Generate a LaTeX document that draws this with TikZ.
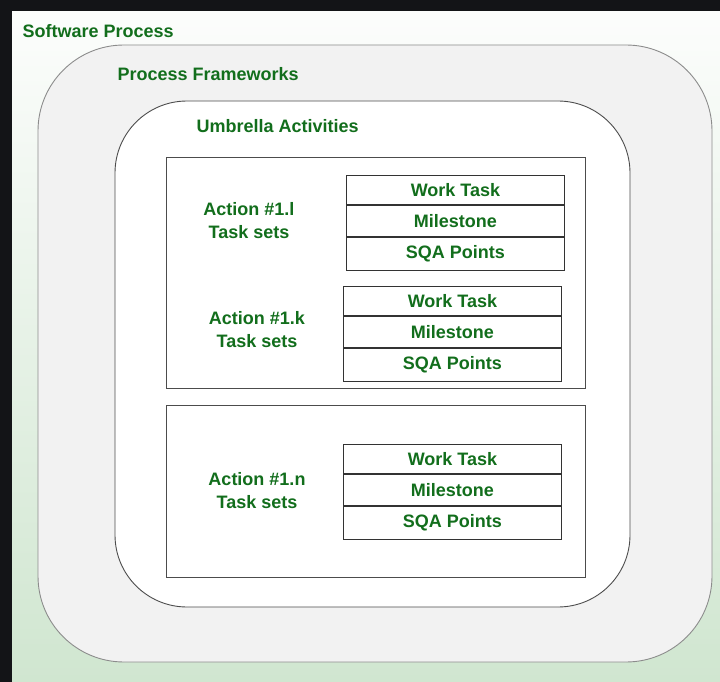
\documentclass[tikz,border=0pt]{standalone}
\usepackage{fontspec}
\setmainfont{Liberation Sans}
\usetikzlibrary{positioning}

\definecolor{ggreen}{RGB}{18,110,28}
\definecolor{bgtop}{RGB}{252,253,252}
\definecolor{bgbot}{RGB}{208,230,208}
\definecolor{framegray}{RGB}{242,242,242}
\definecolor{darkstrip}{RGB}{19,20,23}

\tikzset{
  txt/.style={text=ggreen, font=\bfseries\fontsize{18}{23}\selectfont, align=center},
  cell/.style={draw=black!80, fill=white, line width=0.9pt, minimum width=218pt,
               inner sep=0pt, txt},
  actbox/.style={draw=black!70, fill=white, line width=0.9pt}
}

\begin{document}
\begin{tikzpicture}[x=1pt, y=-1pt]
  \useasboundingbox (0,0) rectangle (720,682);
  % backdrop and dark edges
  \fill[darkstrip] (0,0) rectangle (720,682);
  \shade[top color=bgtop, bottom color=bgbot] (12,12) rectangle (720,682);

  % nested regions
  \draw[black!45, fill=framegray, line width=0.9pt, rounded corners=86pt]
    (38,45) rectangle (712,662);
  \draw[black!70, fill=white, line width=0.9pt, rounded corners=72pt]
    (115,101) rectangle (630,607);
  \node[txt, anchor=west] (swp) at (19,31) {Software Process};
  \node[txt, anchor=west] (pfw) at (114,74) {Process Frameworks};
  \node[txt, anchor=west] (uma) at (193,126) {Umbrella Activities};

  % action groups
  \draw[actbox] (166,157) rectangle (585,388);
  \draw[actbox] (166,405) rectangle (585,577);

  \node[txt] (actl) at (249,221) {Action \#1.l\\Task sets};
  \node[txt] (actk) at (257,330) {Action \#1.k\\Task sets};
  \node[txt] (actn) at (257,491) {Action \#1.n\\Task sets};

  % task tables
  \foreach \tx/\ty/\nm in {346/175/l, 343/286/k, 343/444/n} {
    \node[cell, anchor=north west, minimum height=29pt] (wt\nm) at (\tx,\ty) {Work Task};
    \node[cell, below=0pt of wt\nm, minimum height=31pt] (ms\nm) {Milestone};
    \node[cell, below=0pt of ms\nm, minimum height=33pt] (sqa\nm) {SQA Points};
  }
\end{tikzpicture}
\end{document}
